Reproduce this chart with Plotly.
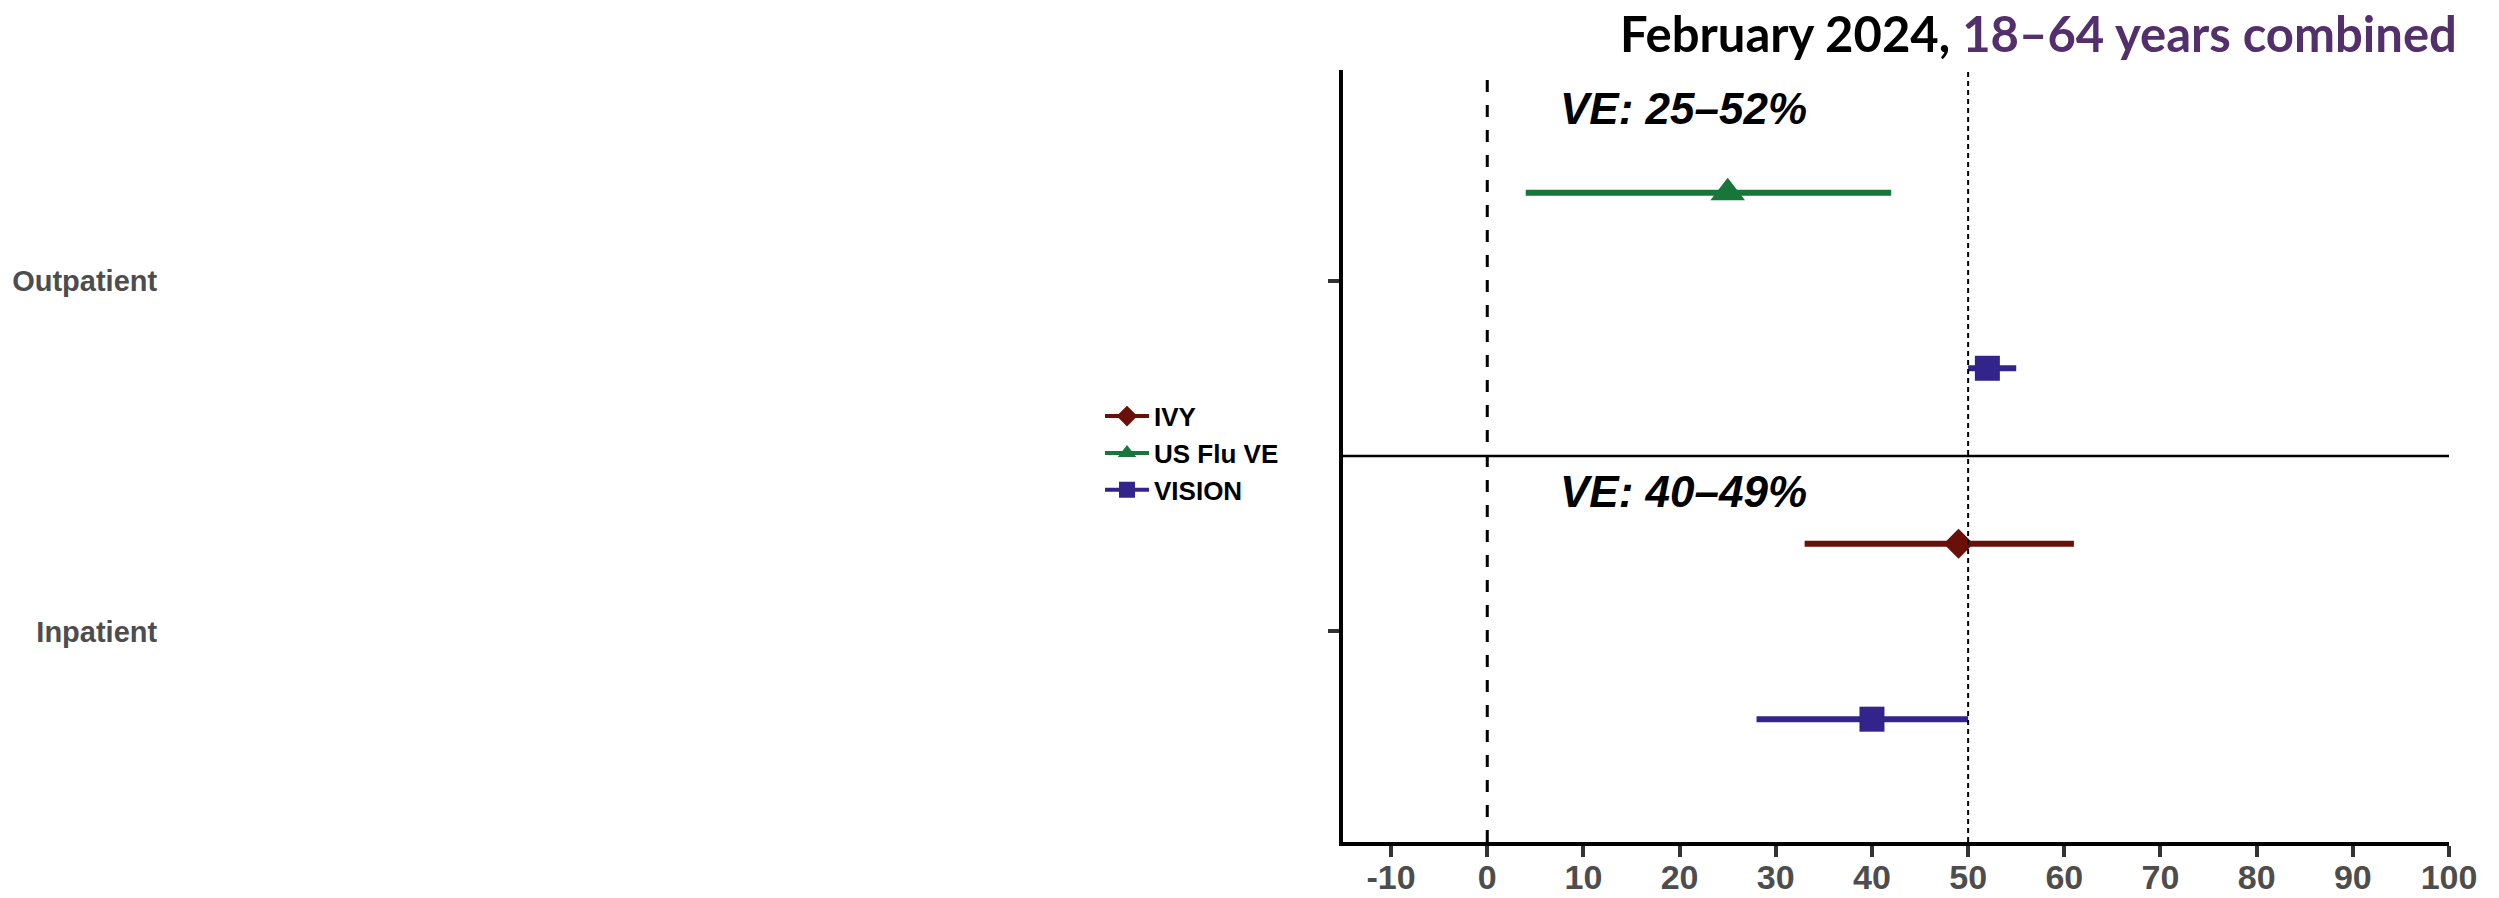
import plotly.graph_objects as go

# ---- data ----
settings = ["Outpatient", "Inpatient"]            # y categories, top to bottom
networks = ["IVY", "US Flu VE", "VISION"]          # legend order

est_setting = ["Outpatient", "Outpatient", "Inpatient", "Inpatient"]
est_network = ["US Flu VE", "VISION", "IVY", "VISION"]
ve_point = [25, 52, 49, 40]
ve_lower = [4, 50, 33, 28]
ve_upper = [42, 55, 61, 50]

x_ticks = [-10, 0, 10, 20, 30, 40, 50, 60, 70, 80, 90, 100]
range_labels = ["VE: 25–52%", "VE: 40–49%"]       # one per setting

# ---- styling ----
colors = {"IVY": "#6a1008", "US Flu VE": "#17773a", "VISION": "#32248b"}
symbols = {"IVY": "diamond", "US Flu VE": "triangle-up", "VISION": "square"}
sizes = {"IVY": 23, "US Flu VE": 30, "VISION": 25}
label_offsets = [0.49, 0.40]                       # VE label height above each category
FONT = "Liberation Sans, Arial, sans-serif"

# numeric positions: categories at integers, estimates dodged within each one
base_y = {s: len(settings) - i for i, s in enumerate(settings)}
seen = {}
pos_y = []
for s in est_setting:
    k = seen.get(s, 0)
    pos_y.append(base_y[s] + (0.25 if k == 0 else -0.25))
    seen[s] = k + 1

fig = go.Figure()

for net in networks:
    idx = [i for i, n in enumerate(est_network) if n == net]
    xs = [ve_point[i] for i in idx]
    ys = [pos_y[i] for i in idx]
    fig.add_trace(go.Scatter(
        x=xs, y=ys, mode="markers", name=net, showlegend=False,
        marker=dict(symbol=symbols[net], size=sizes[net], color=colors[net],
                    line=dict(width=0)),
        error_x=dict(type="data", symmetric=False,
                     array=[ve_upper[i] - ve_point[i] for i in idx],
                     arrayminus=[ve_point[i] - ve_lower[i] for i in idx],
                     thickness=6, width=0, color=colors[net]),
        hovertemplate=net + ": %{x}<extra></extra>",
    ))

# legend keys: point with a line through it
for net in networks:
    fig.add_trace(go.Scatter(
        x=[None], y=[None], mode="lines+markers", name=net,
        line=dict(color=colors[net], width=4),
        marker=dict(symbol=symbols[net], size=16, color=colors[net]),
    ))

y_lo, y_hi = 0.4, len(settings) + 0.6

# reference lines at 0 and 50, and the divider between settings
fig.add_shape(type="line", x0=0, x1=0, y0=y_lo, y1=y_hi, xref="x", yref="y",
              line=dict(color="black", width=3, dash="12px,13px"))
fig.add_shape(type="line", x0=50, x1=50, y0=y_lo, y1=y_hi, xref="x", yref="y",
              line=dict(color="black", width=2, dash="5px,4px"))
fig.add_shape(type="line", x0=-15, x1=100, y0=1.5, y1=1.5, xref="x", yref="y",
              line=dict(color="black", width=2.5))

# VE range per setting
for s, lab, off in zip(settings, range_labels, label_offsets):
    fig.add_annotation(x=7.4, y=base_y[s] + off, xref="x", yref="y",
                       text=lab, showarrow=False, xanchor="left", yanchor="middle",
                       font=dict(family=FONT, size=44, color="black",
                                 weight="bold", style="italic"))

fig.add_annotation(
    x=1.009, y=1.0885, xref="paper", yref="paper", xanchor="right", yanchor="top",
    showarrow=False,
    text="February 2024, <span style='color:#532f6b'>18–64 years combined</span>",
    font=dict(family="Lato, sans-serif", size=49, color="black", weight="bold"),
)

fig.update_layout(
    width=2499, height=898,
    margin=dict(l=1343, r=50, t=70, b=56, autoexpand=False),
    paper_bgcolor="white", plot_bgcolor="white",
    showlegend=True,
    legend=dict(x=-0.2197, y=0.582, xanchor="left", yanchor="top", itemwidth=44,
                font=dict(family=FONT, size=26, color="black", weight="bold"),
                bgcolor="rgba(0,0,0,0)", traceorder="normal", tracegroupgap=0),
    xaxis=dict(range=[-15, 100], tickvals=x_ticks, ticktext=[str(v) for v in x_ticks],
               showgrid=False, zeroline=False, showline=True, linecolor="black",
               linewidth=4, ticks="outside", ticklen=11, tickwidth=4,
               tickcolor="#333333", ticklabelstandoff=-9,
               tickfont=dict(family=FONT, size=34, color="#4d4d4d", weight="bold")),
    yaxis=dict(range=[y_lo, y_hi], tickvals=[base_y[s] for s in settings],
               ticktext=settings, showgrid=False, zeroline=False, showline=True,
               linecolor="black", linewidth=4, ticks="outside", ticklen=11,
               tickwidth=4, tickcolor="#333333", ticklabelstandoff=1165,
               tickfont=dict(family=FONT, size=29, color="#4d4d4d", weight="bold")),
)

fig.write_html("out.html")
